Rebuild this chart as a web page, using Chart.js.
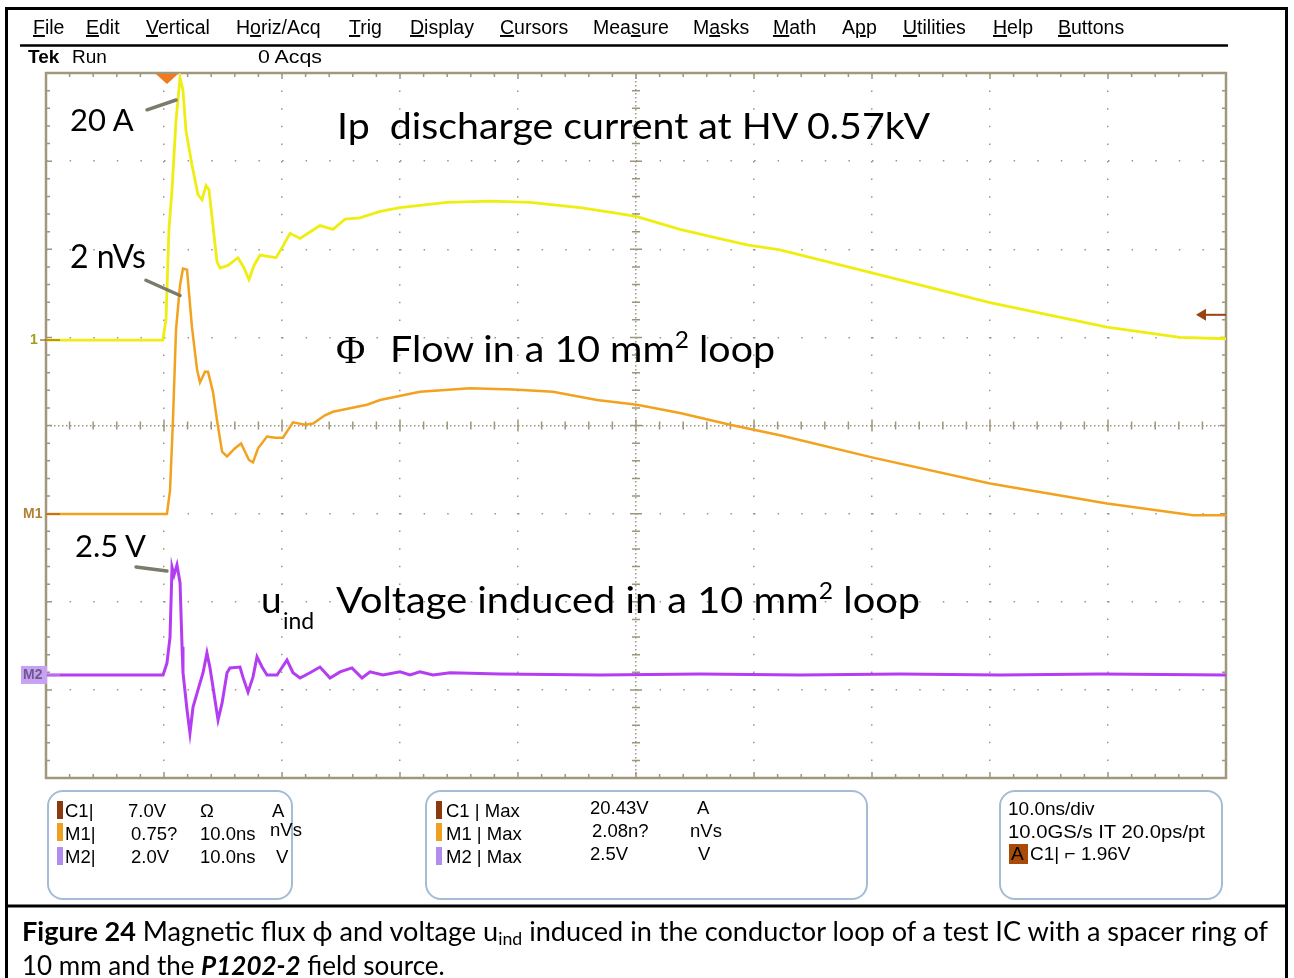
<!DOCTYPE html>
<html>
<head>
<meta charset="utf-8">
<script src="https://cdn.jsdelivr.net/npm/chart.js@4.4.0/dist/chart.umd.min.js"></script>
<style>
	body { margin: 0; background: #fff; }
	#page { position: relative; width: 1294px; height: 978px; overflow: hidden; }
	#scope { position: absolute; left: 0; top: 0; }
	#overlay { position: absolute; left: 0; top: 0; pointer-events: none; }
	.ui { font-family: "Liberation Sans", Arial, sans-serif; fill: #000; }
	.note { font-family: Lato, "Open Sans", sans-serif; fill: #000; }
</style>
</head>
<body>
<div id="page">
	<canvas id="scope" width="1294" height="978"></canvas>
	<svg id="overlay" width="1294" height="978">
		<!-- outer figure frame and caption separator -->
		<rect x="6.5" y="8.5" width="1280" height="1000" fill="none" stroke="#000" stroke-width="3"/>
		<line x1="6" y1="906" x2="1288" y2="906" stroke="#000" stroke-width="3"/>

		<!-- menu bar -->
		<g class="ui" font-size="19.5">
			<text x="33" y="34"><tspan text-decoration="underline">F</tspan>ile</text>
			<text x="86" y="34"><tspan text-decoration="underline">E</tspan>dit</text>
			<text x="146" y="34"><tspan text-decoration="underline">V</tspan>ertical</text>
			<text x="236" y="34">H<tspan text-decoration="underline">o</tspan>riz/Acq</text>
			<text x="349" y="34"><tspan text-decoration="underline">T</tspan>rig</text>
			<text x="410" y="34"><tspan text-decoration="underline">D</tspan>isplay</text>
			<text x="500" y="34"><tspan text-decoration="underline">C</tspan>ursors</text>
			<text x="593" y="34">Mea<tspan text-decoration="underline">s</tspan>ure</text>
			<text x="693" y="34">M<tspan text-decoration="underline">a</tspan>sks</text>
			<text x="773" y="34"><tspan text-decoration="underline">M</tspan>ath</text>
			<text x="842" y="34">A<tspan text-decoration="underline">p</tspan>p</text>
			<text x="903" y="34"><tspan text-decoration="underline">U</tspan>tilities</text>
			<text x="993" y="34"><tspan text-decoration="underline">H</tspan>elp</text>
			<text x="1058" y="34"><tspan text-decoration="underline">B</tspan>uttons</text>
		</g>
		<line x1="20" y1="45.5" x2="1228" y2="45.5" stroke="#000" stroke-width="2.5"/>
		<g class="ui" font-size="19">
			<text x="28" y="63" font-weight="bold">Tek</text>
			<text x="72" y="63">Run</text>
			<text x="258" y="63" textLength="64" lengthAdjust="spacingAndGlyphs">0 Acqs</text>
		</g>

		<!-- annotations inside the graticule -->
		<g class="note">
			<text x="70" y="131" font-size="31">20 A</text>
			<text x="337" y="139" font-size="37" xml:space="preserve" textLength="593" lengthAdjust="spacingAndGlyphs">Ip  discharge current at HV 0.57kV</text>
			<text x="70" y="268" font-size="32">2 nVs</text>
			<text x="336" y="363" font-size="40" font-family="'Liberation Serif', serif">Φ</text>
			<text x="390" y="362" font-size="37" textLength="385" lengthAdjust="spacingAndGlyphs">Flow in a 10 mm<tspan font-size="23" dy="-14">2</tspan><tspan dy="14"> loop</tspan></text>
			<text x="75" y="557" font-size="31">2.5 V</text>
			<text x="261" y="613" font-size="37">u</text>
			<text x="283" y="629" font-size="23">ind</text>
			<text x="336" y="613" font-size="37" textLength="584" lengthAdjust="spacingAndGlyphs">Voltage induced in a 10 mm<tspan font-size="23" dy="-14">2</tspan><tspan dy="14"> loop</tspan></text>
		</g>

		<!-- readout boxes -->
		<g fill="none" stroke="#a5bcd6" stroke-width="2">
			<rect x="48" y="791" width="244" height="108" rx="15"/>
			<rect x="426" y="791" width="441" height="108" rx="15"/>
			<rect x="1000" y="791" width="222" height="108" rx="15"/>
		</g>
		<g>
			<rect x="57" y="801" width="6" height="18" fill="#8a3a0c"/>
			<rect x="57" y="823" width="6" height="18" fill="#f0a020"/>
			<rect x="57" y="847" width="6" height="18" fill="#b48cf0"/>
			<rect x="436" y="801" width="6" height="18" fill="#8a3a0c"/>
			<rect x="436" y="823" width="6" height="18" fill="#f0a020"/>
			<rect x="436" y="847" width="6" height="18" fill="#b48cf0"/>
			<rect x="1009" y="844" width="19" height="20" fill="#a84a08"/>
		</g>
		<g class="ui" font-size="18.5">
			<text x="65" y="817">C1|</text><text x="128" y="817">7.0V</text><text x="200" y="817">Ω</text><text x="272" y="817">A</text>
			<text x="65" y="840">M1|</text><text x="131" y="840">0.75?</text><text x="200" y="840">10.0ns</text><text x="270" y="836">nVs</text>
			<text x="65" y="863">M2|</text><text x="131" y="863">2.0V</text><text x="200" y="863">10.0ns</text><text x="276" y="863">V</text>

			<text x="446" y="817">C1 | Max</text><text x="590" y="814">20.43V</text><text x="697" y="814">A</text>
			<text x="446" y="840">M1 | Max</text><text x="592" y="837">2.08n?</text><text x="690" y="837">nVs</text>
			<text x="446" y="863">M2 | Max</text><text x="590" y="860">2.5V</text><text x="698" y="860">V</text>
		</g>
		<g class="ui" font-size="19">
			<text x="1008" y="815">10.0ns/div</text>
			<text x="1008" y="838" textLength="197" lengthAdjust="spacingAndGlyphs">10.0GS/s IT 20.0ps/pt</text>
			<text x="1011" y="860">A</text><text x="1030" y="860">C1| ⌐ 1.96V</text>
		</g>

		<!-- caption -->
		<g class="note" font-size="26">
			<text x="22" y="941" textLength="1246" lengthAdjust="spacingAndGlyphs"><tspan font-weight="bold">Figure 24</tspan> Magnetic flux ϕ and voltage u<tspan font-size="17" dy="4">ind</tspan><tspan dy="-4"> induced in the conductor loop of a test IC with a spacer ring of</tspan></text>
			<text x="22" y="975">10 mm and the <tspan font-weight="bold" font-style="italic">P1202-2</tspan> field source.</text>
		</g>
	</svg>
</div>
<script>
// time base: 10 ns/div, trigger at 0 ns (one division from the left edge)
const timeMin = -10;
const timeMax = 90;
const timeStep = 10;

// C1: discharge current Ip [A]
const c1Time = [
	-10, -0.1, 0.17, 0.42, 0.68, 1.02, 1.36, 1.61, 1.86, 2.37, 2.88, 3.22, 3.56,
	3.81, 4.15, 4.49, 4.75, 5.42, 6.27, 6.78, 7.2, 7.63, 8.14, 8.81, 9.49, 10.08,
	10.68, 11.53, 12.37, 13.22, 14.32, 15.34, 16.61, 18.31, 20, 23.98, 27.63,
	31.02, 35.25, 38.05, 40.08, 43.73, 46.53, 49.41, 52.2, 60.08, 70, 79.92, 86.1, 90,
];
const c1Current = [
	0, 0, 1.6, 8.6, 11.7, 17.1, 20.4, 19.4, 16.3, 13.6, 11.3, 10.9, 12.0,
	11.7, 8.9, 6.1, 5.6, 5.8, 6.4, 5.6, 4.7, 5.8, 6.6, 6.5, 6.4, 7.3,
	8.3, 7.9, 8.4, 8.9, 8.6, 9.4, 9.5, 10.0, 10.3, 10.7, 10.8,
	10.7, 10.3, 9.9, 9.6, 8.6, 8.0, 7.4, 7.0, 5.2, 2.9, 1.0, 0.2, 0.1,
];

// M1: magnetic flux in the 10 mm² loop [nVs]
const m1Time = [
	-10, 0.25, 0.51, 0.76, 1.02, 1.36, 1.61, 1.95, 2.37, 2.8, 3.05, 3.47, 3.73,
	4.15, 4.49, 4.92, 5.34, 6.02, 6.53, 7.2, 7.54, 7.97, 8.73, 9.41, 10.08,
	10.93, 11.95, 12.63, 13.64, 14.32, 15.76, 17.2, 18.31, 21.69, 25.93, 29.58,
	32.97, 36.69, 40.08, 43.73, 47.97, 52.2, 60.08, 70, 79.92, 87.2, 90,
];
const m1Flux = [
	0, 0, 0.2, 0.8, 1.57, 1.95, 2.09, 2.08, 1.59, 1.23, 1.12, 1.21, 1.21,
	1.04, 0.8, 0.53, 0.49, 0.56, 0.6, 0.46, 0.44, 0.56, 0.66, 0.65, 0.65,
	0.78, 0.76, 0.77, 0.84, 0.87, 0.9, 0.93, 0.97, 1.04, 1.07, 1.06,
	1.04, 0.97, 0.93, 0.86, 0.76, 0.67, 0.48, 0.26, 0.09, -0.01, -0.01,
];

// M2: induced voltage u_ind [V]
const m2Time = [
	-10, -0.08, 0.25, 0.51, 0.68, 0.85, 1.1, 1.36, 1.53, 1.61, 1.95, 2.2, 2.46, 2.88,
	3.31, 3.64, 3.9, 4.32, 4.58, 4.92, 5.34, 5.59, 6.44, 6.69, 7.12, 7.54, 7.88,
	8.31, 8.73, 9.58, 10.42, 10.93, 11.53, 12.37, 13.22, 14.07, 14.92, 15.93,
	16.78, 17.46, 18.56, 20, 20.85, 21.69, 22.8, 24.24, 28.47, 36.95, 45.42,
	53.9, 62.37, 70.85, 79.32, 90,
];
const m2Volt = [
	0, 0, 0.27, 0.86, 2.45, 2.27, 2.5, 2.09, 0.64, 0.05, -0.79, -1.32, -0.73, -0.34,
	0.05, 0.5, 0.16, -0.57, -1.02, -0.64, 0.05, 0.16, 0.18, -0.05, -0.39, -0.05, 0.41,
	0.18, 0, 0, 0.34, 0.05, -0.07, 0.05, 0.18, -0.07, 0.07, 0.16,
	-0.07, 0.07, 0, 0.07, 0, 0.07, 0, 0.05, 0.02, 0, 0.02,
	0, 0.02, 0, 0.02, 0,
];

// trigger level on C1 [A]
const triggerLevel = 1.96;

const colors = {
	c1: '#eeee12',
	m1: '#f2a21e',
	m2: '#b43cf2',
	grid: '#9d967c',
	frame: '#a0977c',
};

function toPoints(xs, ys) {
	return xs.map((x, i) => ({ x: x, y: ys[i] }));
}

// small marks of the graticule, edge ticks and frame
const graticule = {
	id: 'graticule',
	beforeDatasetsDraw(chart) {
		const { ctx, chartArea: a, scales } = chart;
		const x = scales.x;
		const y = scales.y;
		const cx = x.getPixelForValue((timeMin + timeMax) / 2);
		const cy = y.getPixelForValue(0);
		ctx.save();
		ctx.strokeStyle = colors.grid;
		ctx.lineWidth = 1.5;
		ctx.beginPath();
		for (let i = 0; i <= 50; i++) {
			const px = x.getPixelForValue(timeMin + i * 2);
			const len = i % 5 === 0 ? 6 : 4;
			ctx.moveTo(px, a.top); ctx.lineTo(px, a.top + len);
			ctx.moveTo(px, a.bottom); ctx.lineTo(px, a.bottom - len);
			ctx.moveTo(px, cy - len); ctx.lineTo(px, cy + len);
		}
		for (let i = 0; i <= 40; i++) {
			const py = y.getPixelForValue(-4 + i * 0.2);
			const len = i % 5 === 0 ? 6 : 4;
			ctx.moveTo(a.left, py); ctx.lineTo(a.left + len, py);
			ctx.moveTo(a.right, py); ctx.lineTo(a.right - len, py);
			ctx.moveTo(cx - len, py); ctx.lineTo(cx + len, py);
		}
		ctx.stroke();
		ctx.strokeStyle = colors.frame;
		ctx.lineWidth = 2.5;
		ctx.strokeRect(a.left, a.top, a.width, a.height);
		ctx.restore();
	},
	afterDatasetsDraw(chart) {
		const { ctx, chartArea: a, scales } = chart;
		ctx.save();

		// trigger position marker
		const tx = scales.x.getPixelForValue(0.25);
		ctx.fillStyle = '#f07a1e';
		ctx.beginPath();
		ctx.moveTo(tx - 11, a.top + 1);
		ctx.lineTo(tx + 11, a.top + 1);
		ctx.lineTo(tx, a.top + 11);
		ctx.closePath();
		ctx.fill();

		// trigger level marker
		const ly = scales.yC1.getPixelForValue(triggerLevel);
		ctx.strokeStyle = '#9a4410';
		ctx.fillStyle = '#9a4410';
		ctx.lineWidth = 2;
		ctx.beginPath();
		ctx.moveTo(a.right, ly); ctx.lineTo(a.right - 22, ly);
		ctx.stroke();
		ctx.beginPath();
		ctx.moveTo(a.right - 30, ly); ctx.lineTo(a.right - 20, ly - 6); ctx.lineTo(a.right - 20, ly + 6);
		ctx.closePath();
		ctx.fill();

		// channel ground markers
		const y1 = scales.yC1.getPixelForValue(0);
		const y2 = scales.yM1.getPixelForValue(0);
		const y3 = scales.yM2.getPixelForValue(0);
		ctx.font = 'bold 14px "Liberation Sans", Arial, sans-serif';
		ctx.textBaseline = 'middle';
		ctx.fillStyle = '#a29c1c';
		ctx.fillText('1', 30, y1);
		ctx.strokeStyle = '#a0581c';
		ctx.lineWidth = 1.2;
		ctx.beginPath(); ctx.moveTo(40, y1); ctx.lineTo(a.left + 14, y1); ctx.stroke();
		ctx.fillStyle = '#b08236';
		ctx.fillText('M1', 23, y2);
		ctx.beginPath(); ctx.moveTo(a.left, y2); ctx.lineTo(a.left + 14, y2); ctx.stroke();
		ctx.fillStyle = '#c7a2f4';
		ctx.fillRect(21, y3 - 9, 26, 18);
		ctx.fillStyle = '#6c5a8c';
		ctx.fillText('M2', 23, y3);
		ctx.strokeStyle = '#b48cf0';
		ctx.beginPath(); ctx.moveTo(a.left, y3); ctx.lineTo(a.left + 14, y3); ctx.stroke();

		// pointers from the notes to the peaks
		const pointers = [
			{ axis: 'yC1', from: [-1.44, 17.9], to: [1.02, 18.66] },
			{ axis: 'yM1', from: [-1.53, 1.99], to: [1.36, 1.86] },
			{ axis: 'yM2', from: [-2.37, 2.45], to: [0.25, 2.36] },
		];
		ctx.strokeStyle = '#7c7a6a';
		ctx.lineWidth = 3.5;
		ctx.lineCap = 'round';
		pointers.forEach((p) => {
			const s = scales[p.axis];
			ctx.beginPath();
			ctx.moveTo(scales.x.getPixelForValue(p.from[0]), s.getPixelForValue(p.from[1]));
			ctx.lineTo(scales.x.getPixelForValue(p.to[0]), s.getPixelForValue(p.to[1]));
			ctx.stroke();
		});
		ctx.restore();
	},
};

const hiddenAxis = (min, max) => ({ type: 'linear', display: false, min: min, max: max });

new Chart(document.getElementById('scope'), {
	type: 'line',
	data: {
		datasets: [
			{
				label: 'C1 Ip',
				data: toPoints(c1Time, c1Current),
				yAxisID: 'yC1',
				borderColor: colors.c1,
				borderWidth: 2.8,
			},
			{
				label: 'M1 Flux',
				data: toPoints(m1Time, m1Flux),
				yAxisID: 'yM1',
				borderColor: colors.m1,
				borderWidth: 2.5,
			},
			{
				label: 'M2 u_ind',
				data: toPoints(m2Time, m2Volt),
				yAxisID: 'yM2',
				borderColor: colors.m2,
				borderWidth: 3,
			},
		],
	},
	options: {
		responsive: false,
		animation: false,
		devicePixelRatio: 1,
		layout: { padding: { left: 46, top: 73, right: 68, bottom: 200 } },
		elements: { point: { radius: 0 }, line: { tension: 0, fill: false } },
		plugins: { legend: { display: false }, tooltip: { enabled: false } },
		scales: {
			x: {
				type: 'linear',
				min: timeMin,
				max: timeMax,
				ticks: { display: false, stepSize: timeStep },
				grid: { color: colors.grid, lineWidth: 1.5, drawTicks: false },
				border: {
					display: false,
					dash: (c) => (c.tick && c.tick.value === (timeMin + timeMax) / 2 ? [1.5, 2.5] : [1.5, 16.1]),
				},
			},
			y: {
				type: 'linear',
				min: -4,
				max: 4,
				ticks: { display: false, stepSize: 1 },
				grid: { color: colors.grid, lineWidth: 1.5, drawTicks: false },
				border: {
					display: false,
					dash: (c) => (c.tick && c.tick.value === 0 ? [1.5, 2.5] : [1.5, 22.1]),
				},
			},
			// per channel scales, ground positions as on the screen
			yC1: hiddenAxis(-34.05, 20.76),
			yM1: hiddenAxis(-2.247, 3.754),
			yM2: hiddenAxis(-2.34, 13.67),
		},
	},
	plugins: [graticule],
});
</script>
</body>
</html>
